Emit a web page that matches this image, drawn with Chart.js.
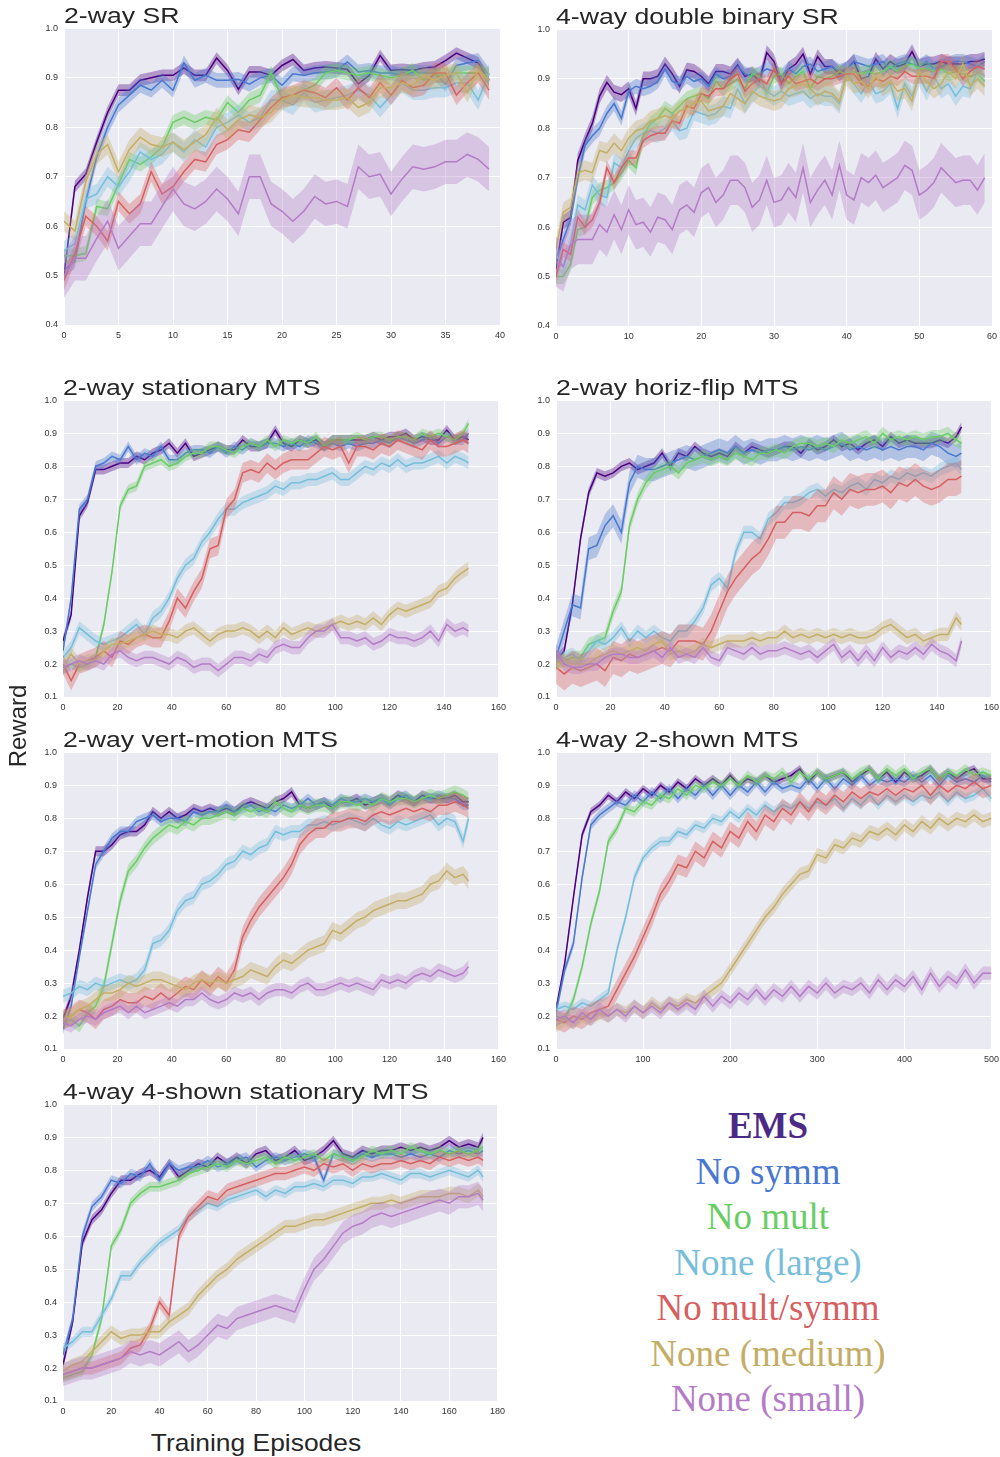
<!DOCTYPE html>
<html>
<head>
<meta charset="utf-8">
<script src="https://cdn.jsdelivr.net/npm/chart.js@4.4.1/dist/chart.umd.min.js"></script>
<style>
    body {
        margin: 0;
        background: #fff;
        width: 1000px;
        height: 1457px;
        position: relative;
        overflow: hidden;
        font-family: "Liberation Sans", Arial, sans-serif;
    }
    .panel { position: absolute; }
    .title {
        position: absolute;
        font-size: 22px;
        line-height: 22px;
        color: #262626;
        white-space: nowrap;
        transform: scaleX(1.21);
        transform-origin: left top;
    }
    .axis-label {
        position: absolute;
        font-size: 24px;
        line-height: 24px;
        color: #262626;
        text-align: center;
        white-space: nowrap;
    }
    #legend {
        position: absolute;
        left: 568px;
        top: 1103px;
        width: 400px;
        text-align: center;
        font-family: "Liberation Serif", "Times New Roman", serif;
        font-size: 37px;
        line-height: 45.5px;
    }
</style>
</head>
<body>

<div class="panel" style="left:24px;top:17px;width:488px;height:332px"><canvas id="srTwo"></canvas></div>
<div class="panel" style="left:516px;top:18px;width:488px;height:332px"><canvas id="srFour"></canvas></div>
<div class="panel" style="left:23px;top:389px;width:488px;height:332px"><canvas id="mtsStationary"></canvas></div>
<div class="panel" style="left:516px;top:389px;width:488px;height:332px"><canvas id="mtsFlip"></canvas></div>
<div class="panel" style="left:23px;top:741px;width:488px;height:332px"><canvas id="mtsVert"></canvas></div>
<div class="panel" style="left:516px;top:741px;width:488px;height:332px"><canvas id="mtsTwoShown"></canvas></div>
<div class="panel" style="left:23px;top:1093px;width:487px;height:332px"><canvas id="mtsFourShown"></canvas></div>

<div class="title" style="left:64px;top:5px">2-way SR</div>
<div class="title" style="left:556px;top:6px">4-way double binary SR</div>
<div class="title" style="left:63px;top:377px">2-way stationary MTS</div>
<div class="title" style="left:556px;top:377px">2-way horiz-flip MTS</div>
<div class="title" style="left:63px;top:729px">2-way vert-motion MTS</div>
<div class="title" style="left:556px;top:729px">4-way 2-shown MTS</div>
<div class="title" style="left:63px;top:1081px">4-way 4-shown stationary MTS</div>

<div class="axis-label" style="left:-42px;top:714px;width:120px;transform:rotate(-90deg)">Reward</div>
<div class="axis-label" style="left:106px;top:1431px;width:300px;transform:scaleX(1.1)">Training Episodes</div>

<div id="legend"></div>

<script>
const seriesNames = ["EMS", "No symm", "No mult", "None (large)", "No mult/symm", "None (medium)", "None (small)"];
const seriesColors = ["#4B0082", "#4878CF", "#6ACC65", "#77BEDB", "#D65F5F", "#C4AD66", "#B47CC7"];

// 2-way SR
const srTwoEpisodes = [0,1,2,3,4,5,6,7,8,9,10,11,12,13,14,15,16,17,18,19,20,21,22,23,24,25,26,27,28,29,30,31,32,33,34,35,36,37,38,39];
const srTwoEms = [0.50,0.68,0.705,0.77,0.83,0.875,0.875,0.895,0.90,0.905,0.905,0.92,0.905,0.905,0.94,0.915,0.877,0.912,0.912,0.905,0.925,0.937,0.915,0.92,0.922,0.92,0.917,0.888,0.905,0.945,0.915,0.917,0.915,0.92,0.922,0.935,0.95,0.94,0.93,0.895];
const srTwoNoSymm = [0.51,0.53,0.65,0.74,0.80,0.845,0.865,0.885,0.875,0.895,0.875,0.93,0.895,0.905,0.895,0.895,0.897,0.887,0.90,0.905,0.885,0.908,0.905,0.91,0.912,0.915,0.932,0.912,0.915,0.91,0.91,0.905,0.912,0.91,0.91,0.887,0.925,0.93,0.935,0.905];
const srTwoNoMult = [0.54,0.54,0.545,0.64,0.635,0.685,0.735,0.725,0.74,0.76,0.81,0.82,0.81,0.82,0.815,0.85,0.83,0.855,0.865,0.91,0.86,0.865,0.875,0.885,0.91,0.915,0.91,0.905,0.91,0.905,0.90,0.905,0.915,0.895,0.905,0.905,0.91,0.91,0.91,0.905];
const srTwoLarge = [0.55,0.565,0.655,0.665,0.70,0.68,0.71,0.75,0.735,0.745,0.77,0.75,0.775,0.76,0.80,0.81,0.825,0.81,0.82,0.855,0.855,0.845,0.87,0.85,0.855,0.86,0.865,0.875,0.865,0.84,0.865,0.89,0.875,0.875,0.88,0.88,0.89,0.89,0.855,0.91];
const srTwoMultSymm = [0.49,0.545,0.62,0.60,0.57,0.65,0.625,0.645,0.71,0.665,0.68,0.71,0.735,0.73,0.765,0.775,0.795,0.79,0.815,0.84,0.86,0.865,0.875,0.87,0.86,0.88,0.855,0.88,0.86,0.89,0.865,0.895,0.88,0.885,0.91,0.91,0.865,0.89,0.91,0.875];
const srTwoMedium = [0.61,0.59,0.69,0.745,0.765,0.71,0.755,0.78,0.765,0.76,0.77,0.755,0.77,0.785,0.82,0.795,0.815,0.825,0.82,0.83,0.855,0.865,0.86,0.86,0.855,0.855,0.86,0.84,0.85,0.88,0.88,0.89,0.885,0.905,0.895,0.905,0.91,0.87,0.915,0.895];
const srTwoSmall = [0.50,0.535,0.535,0.575,0.61,0.555,0.58,0.605,0.605,0.64,0.675,0.645,0.635,0.65,0.675,0.655,0.625,0.70,0.70,0.645,0.63,0.61,0.63,0.66,0.645,0.65,0.64,0.72,0.70,0.705,0.665,0.695,0.72,0.715,0.72,0.73,0.73,0.745,0.735,0.715];
const srTwoSpread = [0.012, 0.015, 0.015, 0.02, 0.02, 0.02, 0.045];

// 4-way double binary SR
const srFourEpisodes = [0,1,2,3,4,5,6,7,8,9,10,11,12,13,14,15,16,17,18,19,20,21,22,23,24,25,26,27,28,29,30,31,32,33,34,35,36,37,38,39,40,41,42,43,44,45,46,47,48,49,50,51,52,53,54,55,56,57,58,59];
const srFourEms = [0.515,0.61,0.62,0.735,0.775,0.81,0.865,0.893,0.873,0.868, 0.88,0.84,0.90,0.90,0.905,0.93,0.91,0.885,0.918,0.915, 0.905,0.89,0.915,0.915,0.91,0.928,0.905,0.91,0.895,0.953, 0.935,0.89,0.92,0.93,0.95,0.91,0.945,0.925,0.925,0.91, 0.92,0.935,0.90,0.905,0.94,0.92,0.935,0.925,0.93,0.955, 0.925,0.93,0.93,0.935,0.93,0.93,0.93,0.935,0.935,0.94];
const srFourNoSymm = [0.53,0.575,0.615,0.70,0.765,0.785,0.80,0.83,0.85,0.82, 0.875,0.885,0.88,0.885,0.895,0.92,0.895,0.89,0.905,0.895, 0.90,0.885,0.91,0.90,0.905,0.925,0.91,0.905,0.91,0.92, 0.915,0.905,0.92,0.91,0.925,0.93,0.915,0.92,0.925,0.915, 0.92,0.935,0.93,0.925,0.93,0.935,0.92,0.93,0.935,0.93, 0.925,0.935,0.92,0.925,0.93,0.935,0.935,0.93,0.925,0.935];
const srFourNoMult = [0.50,0.50,0.525,0.595,0.60,0.66,0.675,0.68,0.69,0.71, 0.735,0.72,0.785,0.81,0.82,0.84,0.83,0.845,0.86,0.865, 0.87,0.86,0.895,0.88,0.89,0.90,0.88,0.91,0.905,0.87, 0.905,0.91,0.89,0.905,0.915,0.88,0.905,0.90,0.905,0.915, 0.91,0.915,0.91,0.915,0.91,0.915,0.925,0.915,0.925,0.93, 0.92,0.92,0.915,0.92,0.91,0.915,0.91,0.905,0.91,0.895];
const srFourLarge = [0.545,0.52,0.565,0.645,0.635,0.685,0.665,0.66,0.73,0.72, 0.755,0.78,0.79,0.795,0.79,0.80,0.815,0.795,0.80,0.835, 0.83,0.825,0.83,0.845,0.84,0.88,0.85,0.87,0.885,0.875, 0.865,0.875,0.865,0.87,0.875,0.86,0.87,0.865,0.865,0.85, 0.915,0.89,0.87,0.895,0.87,0.875,0.89,0.84,0.89,0.865, 0.905,0.875,0.905,0.88,0.89,0.865,0.885,0.88,0.915,0.905];
const srFourMultSymm = [0.50,0.555,0.545,0.62,0.60,0.615,0.65,0.72,0.69,0.72, 0.74,0.74,0.775,0.785,0.79,0.79,0.815,0.81,0.845,0.84, 0.87,0.865,0.88,0.88,0.90,0.91,0.875,0.89,0.90,0.89, 0.92,0.89,0.905,0.89,0.895,0.90,0.89,0.90,0.90,0.905, 0.91,0.91,0.89,0.885,0.90,0.895,0.905,0.90,0.915,0.905, 0.905,0.905,0.90,0.935,0.935,0.92,0.90,0.915,0.925,0.92];
const srFourMedium = [0.555,0.63,0.64,0.71,0.715,0.71,0.755,0.75,0.77,0.755, 0.78,0.795,0.80,0.815,0.82,0.825,0.82,0.835,0.84,0.85, 0.855,0.835,0.84,0.845,0.87,0.86,0.85,0.875,0.865,0.86, 0.855,0.86,0.88,0.885,0.89,0.88,0.865,0.875,0.87,0.855, 0.905,0.89,0.895,0.88,0.905,0.885,0.895,0.875,0.88,0.855, 0.915,0.895,0.88,0.89,0.915,0.90,0.93,0.885,0.90,0.885];
const srFourSmall = [0.53,0.52,0.565,0.575,0.575,0.575,0.605,0.59,0.625,0.595, 0.635,0.605,0.61,0.59,0.62,0.615,0.595,0.635,0.645,0.63, 0.67,0.68,0.65,0.665,0.695,0.695,0.68,0.64,0.655,0.695, 0.65,0.655,0.68,0.66,0.72,0.65,0.675,0.695,0.665,0.725, 0.665,0.655,0.70,0.69,0.705,0.68,0.69,0.70,0.725,0.715, 0.665,0.675,0.69,0.72,0.705,0.69,0.695,0.695,0.675,0.70];
const srFourSpread = [0.015, 0.015, 0.015, 0.02, 0.015, 0.02, 0.05];

// episodes sampled for the three 150-episode MTS panels
const mtsEpisodes = [0,3,6,9,12,15,18,21,24,27,30,33,36,39,42,45,48,51,54,57,60,63,66,69,72,75,78,81,84,87,90,93,96,99,102,105,108,111,114,117,120,123,126,129,132,135,138,141,144,147,149];

// 2-way stationary MTS
const stationaryEms = [0.27,0.35,0.65,0.69,0.79,0.79,0.80,0.81,0.81,0.83, 0.82,0.84,0.85,0.87,0.84,0.87,0.83,0.84,0.85,0.86, 0.85,0.85,0.88,0.86,0.86,0.87,0.91,0.87,0.86,0.88, 0.87,0.88,0.86,0.88,0.88,0.88,0.88,0.88,0.89,0.88, 0.89,0.89,0.90,0.88,0.89,0.88,0.88,0.91,0.88,0.89, 0.88];
const stationaryNoSymm = [0.24,0.40,0.67,0.70,0.80,0.81,0.83,0.82,0.86,0.82, 0.84,0.83,0.86,0.82,0.82,0.84,0.85,0.85,0.84,0.86, 0.84,0.86,0.85,0.87,0.86,0.87,0.87,0.86,0.87,0.86, 0.88,0.87,0.86,0.87,0.86,0.87,0.86,0.87,0.87,0.88, 0.87,0.89,0.88,0.87,0.88,0.89,0.87,0.89,0.88,0.88, 0.90];
const stationaryNoMult = [0.18,0.20,0.19,0.20,0.22,0.32,0.48,0.68,0.73,0.74, 0.80,0.81,0.82,0.80,0.81,0.83,0.84,0.84,0.86,0.86, 0.85,0.84,0.86,0.87,0.86,0.88,0.86,0.88,0.87,0.88, 0.87,0.89,0.86,0.88,0.88,0.88,0.89,0.88,0.89,0.89, 0.88,0.89,0.89,0.88,0.90,0.89,0.90,0.89,0.88,0.90, 0.93];
const stationaryLarge = [0.22,0.25,0.31,0.29,0.27,0.26,0.27,0.28,0.30,0.32, 0.29,0.34,0.36,0.40,0.46,0.50,0.52,0.57,0.60,0.64, 0.67,0.67,0.69,0.70,0.71,0.72,0.74,0.73,0.75,0.75, 0.76,0.76,0.77,0.78,0.76,0.76,0.78,0.80,0.79,0.81, 0.80,0.82,0.80,0.81,0.81,0.82,0.83,0.81,0.83,0.82, 0.81];
const stationaryMultSymm = [0.20,0.15,0.20,0.21,0.22,0.24,0.22,0.27,0.26,0.28, 0.29,0.28,0.28,0.33,0.40,0.37,0.42,0.46,0.55,0.56, 0.67,0.70,0.78,0.79,0.78,0.81,0.79,0.81,0.82,0.82, 0.82,0.84,0.86,0.85,0.86,0.81,0.86,0.86,0.85,0.87, 0.86,0.88,0.87,0.86,0.85,0.88,0.86,0.86,0.87,0.88, 0.87];
const stationaryMedium = [0.19,0.23,0.20,0.21,0.21,0.24,0.26,0.26,0.27,0.28, 0.29,0.30,0.29,0.29,0.28,0.30,0.31,0.29,0.27,0.29, 0.30,0.30,0.31,0.30,0.28,0.30,0.28,0.31,0.29,0.30, 0.31,0.30,0.31,0.32,0.33,0.32,0.33,0.32,0.34,0.32, 0.35,0.37,0.36,0.37,0.38,0.39,0.42,0.43,0.46,0.48, 0.49];
const stationarySmall = [0.19,0.20,0.21,0.20,0.21,0.20,0.23,0.24,0.22,0.21, 0.22,0.22,0.21,0.20,0.22,0.21,0.19,0.20,0.20,0.18, 0.20,0.22,0.22,0.21,0.23,0.22,0.25,0.26,0.25,0.25, 0.28,0.30,0.30,0.32,0.28,0.28,0.27,0.28,0.26,0.27, 0.29,0.28,0.28,0.27,0.28,0.30,0.27,0.32,0.30,0.31, 0.30];
const stationarySpread = [0.015, 0.015, 0.015, 0.02, 0.03, 0.02, 0.02];

// 2-way horiz-flip MTS
const flipEms = [0.21,0.24,0.38,0.58,0.72,0.78,0.77,0.78,0.80,0.81, 0.79,0.80,0.81,0.84,0.80,0.84,0.83,0.86,0.84,0.83, 0.84,0.83,0.86,0.84,0.86,0.85,0.84,0.85,0.86,0.86, 0.84,0.87,0.85,0.86,0.88,0.86,0.87,0.85,0.87,0.88, 0.86,0.89,0.87,0.88,0.87,0.87,0.87,0.88,0.87,0.89, 0.92];
const flipNoSymm = [0.22,0.30,0.38,0.37,0.55,0.56,0.62,0.65,0.60,0.75, 0.80,0.79,0.79,0.80,0.81,0.82,0.83,0.82,0.83,0.84, 0.85,0.84,0.86,0.84,0.85,0.84,0.85,0.85,0.86,0.85, 0.86,0.85,0.86,0.85,0.86,0.87,0.85,0.86,0.85,0.86, 0.85,0.86,0.85,0.86,0.86,0.85,0.87,0.86,0.84,0.83, 0.84];
const flipNoMult = [0.21,0.21,0.22,0.22,0.26,0.27,0.28,0.36,0.42,0.62, 0.70,0.75,0.78,0.79,0.80,0.78,0.81,0.82,0.83,0.82, 0.83,0.82,0.84,0.83,0.82,0.84,0.84,0.85,0.84,0.86, 0.87,0.87,0.86,0.87,0.86,0.88,0.87,0.88,0.89,0.87, 0.90,0.88,0.89,0.88,0.89,0.88,0.89,0.89,0.90,0.88, 0.87];
const flipLarge = [0.21,0.22,0.23,0.21,0.24,0.27,0.26,0.28,0.31,0.27, 0.30,0.28,0.30,0.28,0.27,0.30,0.30,0.33,0.37,0.44, 0.46,0.43,0.54,0.60,0.60,0.58,0.64,0.66,0.69,0.69, 0.70,0.72,0.73,0.71,0.73,0.72,0.74,0.75,0.73,0.76, 0.75,0.77,0.76,0.78,0.77,0.78,0.77,0.79,0.80,0.81, 0.79];
const flipMultSymm = [0.19,0.17,0.19,0.18,0.19,0.20,0.18,0.22,0.21,0.23, 0.22,0.23,0.24,0.25,0.24,0.27,0.27,0.27,0.26,0.30, 0.36,0.42,0.46,0.49,0.52,0.54,0.58,0.63,0.63,0.66, 0.66,0.65,0.68,0.68,0.72,0.70,0.73,0.72,0.73,0.73, 0.74,0.72,0.75,0.74,0.76,0.74,0.73,0.74,0.76,0.76, 0.77];
const flipMedium = [0.20,0.21,0.20,0.20,0.20,0.22,0.23,0.24,0.23,0.24, 0.25,0.24,0.26,0.27,0.23,0.24,0.23,0.24,0.26,0.25, 0.26,0.27,0.27,0.27,0.28,0.27,0.28,0.28,0.30,0.28, 0.29,0.28,0.29,0.28,0.29,0.28,0.29,0.28,0.28,0.29, 0.31,0.32,0.30,0.28,0.29,0.27,0.28,0.29,0.29,0.34, 0.32];
const flipSmall = [0.24,0.20,0.19,0.19,0.20,0.20,0.22,0.23,0.23,0.22, 0.22,0.23,0.24,0.22,0.25,0.22,0.23,0.22,0.25,0.22, 0.21,0.25,0.24,0.23,0.25,0.23,0.24,0.24,0.25,0.24, 0.23,0.24,0.22,0.24,0.26,0.22,0.24,0.21,0.24,0.21, 0.25,0.22,0.24,0.23,0.25,0.23,0.26,0.24,0.23,0.21, 0.27];
const flipSpread = [0.015, 0.035, 0.02, 0.02, 0.05, 0.02, 0.02];

// 2-way vert-motion MTS
const vertEms = [0.19,0.26,0.40,0.56,0.70,0.70,0.72,0.75,0.76,0.76, 0.78,0.82,0.80,0.82,0.80,0.81,0.83,0.82,0.83,0.82, 0.83,0.82,0.84,0.85,0.84,0.83,0.85,0.86,0.88,0.84, 0.83,0.84,0.85,0.83,0.85,0.85,0.86,0.84,0.85,0.86, 0.85,0.87,0.86,0.85,0.87,0.86,0.86,0.86,0.87,0.85, 0.85];
const vertNoSymm = [0.16,0.23,0.38,0.52,0.66,0.70,0.74,0.76,0.76,0.79, 0.80,0.81,0.79,0.80,0.80,0.79,0.82,0.81,0.82,0.82, 0.84,0.82,0.83,0.84,0.82,0.83,0.82,0.84,0.83,0.84, 0.86,0.84,0.85,0.84,0.86,0.85,0.85,0.86,0.85,0.86, 0.84,0.86,0.87,0.85,0.86,0.86,0.87,0.86,0.86,0.84, 0.84];
const vertNoMult = [0.18,0.19,0.17,0.21,0.23,0.29,0.42,0.55,0.64,0.67, 0.71,0.74,0.76,0.78,0.77,0.79,0.78,0.80,0.80,0.81, 0.82,0.81,0.83,0.82,0.83,0.82,0.85,0.83,0.82,0.84, 0.83,0.84,0.84,0.83,0.85,0.85,0.84,0.85,0.84,0.86, 0.85,0.86,0.86,0.85,0.86,0.87,0.86,0.87,0.88,0.87, 0.86];
const vertLarge = [0.26,0.27,0.29,0.28,0.30,0.29,0.30,0.31,0.30,0.31, 0.34,0.42,0.43,0.46,0.52,0.55,0.56,0.60,0.61,0.63, 0.66,0.67,0.70,0.69,0.71,0.72,0.76,0.75,0.76,0.76, 0.78,0.78,0.79,0.78,0.79,0.80,0.79,0.78,0.80,0.78, 0.77,0.79,0.78,0.79,0.80,0.81,0.78,0.80,0.79,0.73, 0.80];
const vertMultSymm = [0.19,0.20,0.22,0.21,0.19,0.22,0.23,0.25,0.24,0.24, 0.26,0.25,0.27,0.25,0.27,0.29,0.28,0.31,0.29,0.32, 0.30,0.34,0.44,0.49,0.53,0.56,0.59,0.62,0.66,0.72, 0.75,0.77,0.77,0.79,0.79,0.80,0.80,0.79,0.81,0.82, 0.81,0.82,0.83,0.82,0.83,0.82,0.84,0.84,0.85,0.84, 0.83];
const vertMedium = [0.19,0.20,0.22,0.23,0.25,0.27,0.27,0.28,0.30,0.29, 0.30,0.31,0.31,0.30,0.29,0.28,0.30,0.31,0.30,0.31, 0.30,0.31,0.32,0.34,0.33,0.32,0.35,0.37,0.36,0.38, 0.40,0.41,0.42,0.46,0.45,0.47,0.49,0.50,0.52,0.53, 0.54,0.55,0.55,0.56,0.57,0.60,0.61,0.64,0.62,0.63, 0.61];
const vertSmall = [0.18,0.17,0.19,0.20,0.19,0.21,0.22,0.23,0.21,0.23, 0.21,0.22,0.23,0.24,0.23,0.25,0.25,0.27,0.25,0.24, 0.25,0.27,0.26,0.27,0.25,0.27,0.28,0.28,0.27,0.29, 0.30,0.28,0.28,0.29,0.30,0.29,0.30,0.29,0.28,0.31, 0.30,0.31,0.30,0.32,0.33,0.32,0.34,0.33,0.32,0.33, 0.35];
const vertSpread = [0.015, 0.015, 0.02, 0.02, 0.03, 0.025, 0.02];

// 4-way 2-shown MTS (read every 10 episodes, noisy curves)
const twoShownEpisodes = [0,10,20,30,40,50,60,70,80,90,100,110,120,130,140,150,160,170,180,190,200,210,220,230,240,250,260,270,280,290,300,310,320,330,340,350,360,370,380,390,400,410,420,430,440,450,460,470,480,490,500];
const twoShownEms = [0.22,0.36,0.56,0.75,0.82,0.84,0.87,0.85,0.88,0.86, 0.89,0.87,0.90,0.88,0.91,0.89,0.92,0.90,0.92,0.90, 0.93,0.90,0.92,0.91,0.93,0.91,0.92,0.93,0.95,0.91, 0.94,0.92,0.93,0.94,0.91,0.93,0.95,0.92,0.94,0.91, 0.94,0.92,0.93,0.95,0.92,0.94,0.92,0.94,0.95,0.92, 0.92];
const twoShownNoSymm = [0.21,0.34,0.42,0.62,0.78,0.81,0.83,0.85,0.84,0.87, 0.85,0.88,0.86,0.89,0.86,0.89,0.87,0.90,0.87,0.90, 0.87,0.90,0.88,0.91,0.88,0.91,0.89,0.90,0.89,0.92, 0.89,0.92,0.89,0.92,0.90,0.93,0.90,0.92,0.91,0.92, 0.91,0.93,0.91,0.93,0.90,0.93,0.91,0.92,0.91,0.93, 0.91];
const twoShownNoMult = [0.20,0.19,0.25,0.35,0.48,0.58,0.73,0.77,0.83,0.82, 0.85,0.84,0.87,0.86,0.89,0.87,0.90,0.89,0.91,0.90, 0.92,0.90,0.93,0.91,0.93,0.92,0.94,0.91,0.94,0.92, 0.94,0.92,0.93,0.94,0.92,0.94,0.95,0.92,0.95,0.93, 0.95,0.92,0.94,0.95,0.92,0.94,0.93,0.95,0.93,0.94, 0.93];
const twoShownLarge = [0.22,0.23,0.22,0.24,0.23,0.25,0.27,0.40,0.50,0.62, 0.68,0.71,0.73,0.73,0.76,0.75,0.78,0.77,0.80,0.79, 0.82,0.80,0.83,0.81,0.84,0.82,0.84,0.83,0.85,0.83, 0.85,0.84,0.86,0.83,0.86,0.84,0.87,0.84,0.87,0.85, 0.87,0.85,0.87,0.86,0.88,0.85,0.88,0.86,0.87,0.89, 0.86];
const twoShownMultSymm = [0.19,0.18,0.20,0.19,0.21,0.22,0.23,0.28,0.33,0.38, 0.44,0.50,0.57,0.61,0.66,0.65,0.70,0.68,0.73,0.71, 0.76,0.74,0.79,0.76,0.81,0.79,0.83,0.81,0.85,0.82, 0.86,0.84,0.87,0.85,0.88,0.86,0.88,0.87,0.89,0.87, 0.89,0.88,0.90,0.87,0.90,0.88,0.90,0.89,0.91,0.89, 0.90];
const twoShownMedium = [0.17,0.19,0.18,0.20,0.19,0.21,0.20,0.22,0.21,0.23, 0.21,0.24,0.22,0.24,0.23,0.25,0.24,0.26,0.28,0.30, 0.34,0.38,0.42,0.46,0.50,0.53,0.57,0.60,0.63,0.64, 0.69,0.68,0.72,0.71,0.74,0.73,0.76,0.75,0.77,0.75, 0.78,0.76,0.79,0.77,0.80,0.78,0.80,0.79,0.81,0.79, 0.80];
const twoShownSmall = [0.19,0.20,0.18,0.21,0.19,0.22,0.20,0.22,0.20,0.23, 0.21,0.23,0.21,0.24,0.22,0.24,0.22,0.26,0.23,0.26, 0.24,0.27,0.25,0.28,0.25,0.28,0.26,0.29,0.26,0.29, 0.27,0.30,0.27,0.29,0.28,0.30,0.27,0.31,0.28,0.31, 0.29,0.32,0.28,0.33,0.29,0.32,0.30,0.34,0.30,0.33, 0.33];
const twoShownSpread = [0.012, 0.015, 0.015, 0.015, 0.03, 0.02, 0.02];

// 4-way 4-shown stationary MTS
const fourShownEpisodes = [0,4,8,12,16,20,24,28,32,36,40,44,48,52,56,60,64,68,72,76,80,84,88,92,96,100,104,108,112,116,120,124,128,132,136,140,144,148,152,156,160,164,168,172,174];
const fourShownEms = [0.21,0.34,0.58,0.65,0.68,0.73,0.77,0.77,0.79,0.80, 0.78,0.82,0.78,0.80,0.82,0.81,0.84,0.82,0.84,0.82, 0.85,0.86,0.83,0.84,0.86,0.83,0.84,0.86,0.89,0.85, 0.84,0.86,0.85,0.86,0.86,0.87,0.86,0.87,0.86,0.87, 0.89,0.87,0.88,0.87,0.90];
const fourShownNoSymm = [0.24,0.35,0.60,0.69,0.72,0.77,0.76,0.79,0.78,0.82, 0.77,0.82,0.80,0.81,0.81,0.83,0.81,0.82,0.83,0.84, 0.81,0.83,0.84,0.83,0.84,0.85,0.84,0.77,0.85,0.84, 0.83,0.85,0.84,0.85,0.85,0.84,0.85,0.84,0.85,0.84, 0.86,0.85,0.86,0.85,0.86];
const fourShownNoMult = [0.17,0.18,0.19,0.24,0.35,0.57,0.62,0.70,0.73,0.75, 0.75,0.76,0.77,0.79,0.80,0.81,0.82,0.81,0.83,0.82, 0.83,0.84,0.82,0.84,0.83,0.84,0.85,0.83,0.85,0.84, 0.83,0.84,0.86,0.85,0.86,0.85,0.87,0.86,0.85,0.86, 0.85,0.86,0.85,0.86,0.87];
const fourShownLarge = [0.26,0.28,0.31,0.31,0.36,0.41,0.48,0.48,0.52,0.55, 0.58,0.60,0.62,0.66,0.68,0.70,0.69,0.71,0.72,0.73, 0.74,0.72,0.74,0.73,0.75,0.75,0.76,0.75,0.77,0.77, 0.76,0.78,0.78,0.79,0.78,0.77,0.79,0.79,0.78,0.79, 0.80,0.79,0.78,0.80,0.78];
const fourShownMultSymm = [0.18,0.19,0.20,0.20,0.21,0.22,0.23,0.26,0.27,0.32, 0.40,0.36,0.60,0.66,0.69,0.72,0.71,0.74,0.75,0.76, 0.77,0.78,0.79,0.79,0.80,0.81,0.80,0.82,0.81,0.82, 0.80,0.82,0.81,0.82,0.82,0.83,0.82,0.83,0.82,0.84, 0.83,0.84,0.83,0.84,0.83];
const fourShownMedium = [0.19,0.21,0.22,0.25,0.28,0.31,0.29,0.30,0.30,0.31, 0.31,0.34,0.36,0.38,0.42,0.45,0.48,0.50,0.53,0.55, 0.57,0.59,0.61,0.63,0.63,0.64,0.65,0.65,0.66,0.67, 0.68,0.69,0.70,0.70,0.71,0.70,0.71,0.72,0.72,0.72, 0.73,0.73,0.72,0.74,0.72];
const fourShownSmall = [0.18,0.19,0.20,0.20,0.21,0.22,0.23,0.25,0.24,0.25, 0.24,0.26,0.28,0.25,0.27,0.30,0.33,0.32,0.35,0.36, 0.37,0.38,0.39,0.38,0.37,0.44,0.50,0.53,0.57,0.61, 0.63,0.64,0.66,0.67,0.66,0.67,0.68,0.69,0.70,0.71, 0.70,0.72,0.72,0.73,0.71];
const fourShownSpread = [0.015, 0.015, 0.015, 0.015, 0.02, 0.02, 0.035];

// seaborn darkgrid background
const plotBackground = {
    id: "plotBackground",
    beforeDraw(chart) {
        const { ctx, chartArea } = chart;
        ctx.save();
        ctx.fillStyle = "#EAEAF2";
        ctx.fillRect(chartArea.left, chartArea.top, chartArea.right - chartArea.left, chartArea.bottom - chartArea.top);
        ctx.restore();
    },
};

function withAlpha(hex, alpha) {
    const r = parseInt(hex.slice(1, 3), 16);
    const g = parseInt(hex.slice(3, 5), 16);
    const b = parseInt(hex.slice(5, 7), 16);
    return `rgba(${r},${g},${b},${alpha})`;
}

const tickFont = { family: "Liberation Sans", size: 9 };

function drawPanel(canvasId, episodes, lines, spread, xMax, xStep, yMin) {
    const datasets = [];
    lines.forEach((values, i) => {
        const color = seriesColors[i];
        const rank = lines.length - 1 - i; // later series are drawn on top
        const mean = episodes.map((x, j) => ({ x: x, y: values[j] }));
        // shaded band: upper edge filled down to lower edge
        datasets.push({
            data: mean.map((p) => ({ x: p.x, y: p.y + spread[i] })),
            borderColor: "rgba(0,0,0,0)",
            borderWidth: 0,
            pointRadius: 0,
            backgroundColor: withAlpha(color, 0.35),
            fill: "+1",
            order: 2 * rank + 1,
        });
        datasets.push({
            data: mean.map((p) => ({ x: p.x, y: p.y - spread[i] })),
            borderColor: "rgba(0,0,0,0)",
            borderWidth: 0,
            pointRadius: 0,
            fill: false,
            order: 2 * rank + 1,
        });
        datasets.push({
            label: seriesNames[i],
            data: mean,
            borderColor: color,
            borderWidth: 1.5,
            pointRadius: 0,
            fill: false,
            order: 2 * rank,
        });
    });

    return new Chart(document.getElementById(canvasId), {
        type: "line",
        data: { datasets: datasets },
        options: {
            responsive: true,
            maintainAspectRatio: false,
            animation: false,
            layout: { padding: { top: 8, right: 12, left: 0, bottom: 0 } },
            elements: { line: { tension: 0 } },
            plugins: {
                legend: { display: false },
                tooltip: { enabled: false },
            },
            scales: {
                x: {
                    type: "linear",
                    min: 0,
                    max: xMax,
                    ticks: { stepSize: xStep, color: "#333", font: tickFont, padding: 5, maxRotation: 0 },
                    grid: { color: "#ffffff", lineWidth: 1, drawTicks: false },
                    border: { display: false },
                    afterFit: (scale) => { scale.height = 24; },
                },
                y: {
                    min: yMin,
                    max: 1.0,
                    ticks: {
                        stepSize: 0.1,
                        color: "#333",
                        font: tickFont,
                        padding: 6,
                        callback: (v) => v.toFixed(1),
                    },
                    grid: { color: "#ffffff", lineWidth: 1, drawTicks: false },
                    border: { display: false },
                    afterFit: (scale) => { scale.width = 40; },
                },
            },
        },
        plugins: [plotBackground],
    });
}

drawPanel("srTwo", srTwoEpisodes,
    [srTwoEms, srTwoNoSymm, srTwoNoMult, srTwoLarge, srTwoMultSymm, srTwoMedium, srTwoSmall],
    srTwoSpread, 40, 5, 0.4);
drawPanel("srFour", srFourEpisodes,
    [srFourEms, srFourNoSymm, srFourNoMult, srFourLarge, srFourMultSymm, srFourMedium, srFourSmall],
    srFourSpread, 60, 10, 0.4);
drawPanel("mtsStationary", mtsEpisodes,
    [stationaryEms, stationaryNoSymm, stationaryNoMult, stationaryLarge, stationaryMultSymm, stationaryMedium, stationarySmall],
    stationarySpread, 160, 20, 0.1);
drawPanel("mtsFlip", mtsEpisodes,
    [flipEms, flipNoSymm, flipNoMult, flipLarge, flipMultSymm, flipMedium, flipSmall],
    flipSpread, 160, 20, 0.1);
drawPanel("mtsVert", mtsEpisodes,
    [vertEms, vertNoSymm, vertNoMult, vertLarge, vertMultSymm, vertMedium, vertSmall],
    vertSpread, 160, 20, 0.1);
drawPanel("mtsTwoShown", twoShownEpisodes,
    [twoShownEms, twoShownNoSymm, twoShownNoMult, twoShownLarge, twoShownMultSymm, twoShownMedium, twoShownSmall],
    twoShownSpread, 500, 100, 0.1);
drawPanel("mtsFourShown", fourShownEpisodes,
    [fourShownEms, fourShownNoSymm, fourShownNoMult, fourShownLarge, fourShownMultSymm, fourShownMedium, fourShownSmall],
    fourShownSpread, 180, 20, 0.1);

// Legend as coloured text lines
const legend = document.getElementById("legend");
seriesNames.forEach((name, i) => {
    const line = document.createElement("div");
    line.textContent = name;
    line.style.color = i === 0 ? "#4B2A86" : seriesColors[i];
    if (i === 0) line.style.fontWeight = "bold";
    legend.appendChild(line);
});
</script>
</body>
</html>
